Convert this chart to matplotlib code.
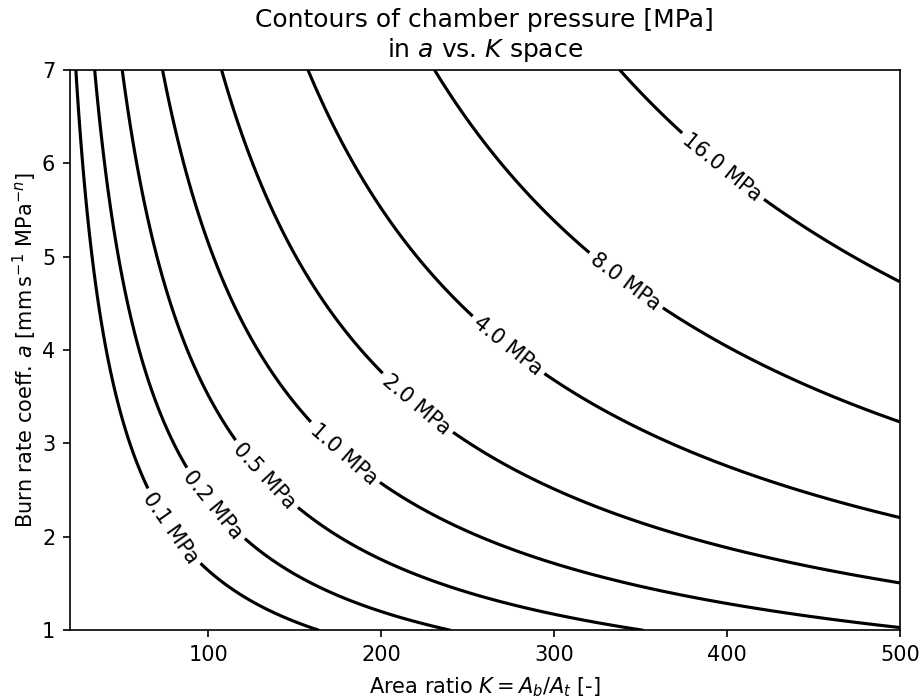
import numpy as np
import matplotlib.pyplot as plt

# Axis ranges
K_range = [20, 500]       # area ratio A_b / A_t
a_range = [1, 7]          # burn rate coeff. [mm s^-1 MPa^-n]

# Propellant / motor parameters (fitted to the drawn contours)
burn_exp_n = 0.45         # burn rate exponent
rho_p = 1800.0            # propellant density [kg m^-3]
c_star = 1079.0           # characteristic velocity [m s^-1]

# Contour levels [MPa]
levels = [0.125, 0.25, 0.5, 1.0, 2.0, 4.0, 8.0, 16.0]

# Where the inline labels sit (K, a)
label_pos = [(79, 2.10), (103, 2.34), (133, 2.66), (179, 2.90),
             (221, 3.43), (273, 4.04), (341, 4.73), (397, 5.95)]


def chamber_pressure(K, a):
    a_si = a * 1e-3 * (1e6) ** (-burn_exp_n)
    p = (K * rho_p * a_si * c_star) ** (1.0 / (1.0 - burn_exp_n))
    return p * 1e-6


K = np.linspace(K_range[0], K_range[1], 600)
a = np.linspace(a_range[0], a_range[1], 600)
KK, AA = np.meshgrid(K, a)
P = chamber_pressure(KK, AA)

dpi = 150
fig = plt.figure(figsize=(920 / dpi, 698 / dpi), dpi=dpi)
ax = fig.add_axes([0.076, 0.097, 0.902, 0.803])

cs = ax.contour(KK, AA, P, levels=levels, colors='black')
ax.clabel(cs, fmt='%.1f MPa', manual=label_pos)

ax.set_xlim(K_range)
ax.set_ylim(a_range)
ax.set_xticks([100, 200, 300, 400, 500])
ax.set_yticks([1, 2, 3, 4, 5, 6, 7])
ax.set_xlabel(r'Area ratio $K = A_b / A_t$ [-]', labelpad=5)
ax.set_ylabel(r'Burn rate coeff. $a$ [mm$\,$s$^{-1}$ MPa$^{-n}$]', labelpad=1.5)
ax.set_title('Contours of chamber pressure [MPa]\nin $a$ vs. $K$ space')

fig.savefig('out.png', dpi=dpi)
